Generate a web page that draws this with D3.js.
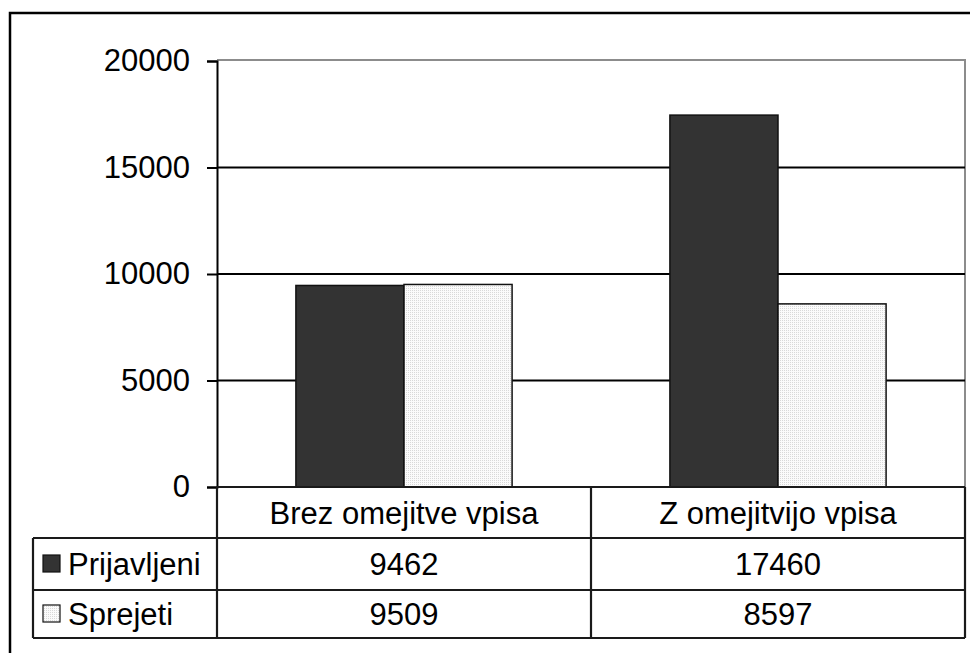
<!DOCTYPE html>
<html>
<head>
<meta charset="utf-8">
<script src="https://cdn.jsdelivr.net/npm/d3@7"></script>
<style>
  body { margin: 0; background: #fff; }
  svg text { font-family: "Liberation Sans", Arial, sans-serif; fill: #000; }
</style>
</head>
<body>
<svg width="970" height="653"></svg>
<script>
// data
var categories = ['Brez omejitve vpisa', 'Z omejitvijo vpisa'];
var seriesNames = ['Prijavljeni', 'Sprejeti'];
var prijavljeni = [9462, 17460];
var sprejeti = [9509, 8597];
var yTicks = [0, 5000, 10000, 15000, 20000];

var seriesValues = [prijavljeni, sprejeti];

var svg = d3.select('svg');

// stipple fill for the light bars
var defs = svg.append('defs');
var pat = defs.append('pattern')
    .attr('id', 'dots')
    .attr('width', 2)
    .attr('height', 2)
    .attr('patternUnits', 'userSpaceOnUse');
pat.append('rect').attr('width', 2).attr('height', 2).attr('fill', '#fbfbfb');
pat.append('rect').attr('width', 1).attr('height', 1).attr('fill', '#d9d9d9');

var fills = ['#333333', 'url(#dots)'];

var plotLeft = 217, plotRight = 965, plotTop = 60, plotBottom = 487;
var legendLeft = 33;
var rowY = [plotBottom, 538, 590, 638];
var fontSize = 31;

// outer frame
svg.append('path')
    .attr('d', 'M10,660 L10,13 L975,13')
    .attr('fill', 'none')
    .attr('stroke', '#000')
    .attr('stroke-width', 2.5);

var xScale = d3.scaleBand()
    .domain(categories)
    .range([plotLeft, plotRight]);

var xInner = d3.scaleBand()
    .domain(seriesNames)
    .range([0, xScale.bandwidth()])
    .paddingOuter(0.73);

var yScale = d3.scaleLinear()
    .domain([0, 20000])
    .range([plotBottom, plotTop + 1]);

// plot area top and right (grey)
svg.append('path')
    .attr('d', 'M' + plotLeft + ',' + plotTop + ' L' + plotRight + ',' + plotTop + ' L' + plotRight + ',' + plotBottom)
    .attr('fill', 'none')
    .attr('stroke', '#8c8c8c')
    .attr('stroke-width', 2);

// gridlines
svg.append('g')
    .selectAll('line')
    .data(yTicks.filter(function(d) { return d > 0 && d < 20000; }))
    .enter()
    .append('line')
        .attr('x1', plotLeft)
        .attr('x2', plotRight)
        .attr('y1', function(d) { return yScale(d); })
        .attr('y2', function(d) { return yScale(d); })
        .attr('stroke', '#000')
        .attr('stroke-width', 1.8);

// bars
seriesNames.forEach(function(s, i) {
    svg.append('g')
        .selectAll('rect')
        .data(seriesValues[i])
        .enter()
        .append('rect')
            .attr('x', function(d, j) { return xScale(categories[j]) + xInner(s); })
            .attr('y', function(d) { return yScale(d); })
            .attr('width', xInner.bandwidth())
            .attr('height', function(d) { return plotBottom - yScale(d); })
            .attr('fill', fills[i])
            .attr('stroke', '#111')
            .attr('stroke-width', 1.5);
});

// y axis
var yAxis = d3.axisLeft(yScale)
    .tickValues(yTicks)
    .tickSize(10)
    .tickPadding(17)
    .tickFormat(d3.format('d'));

var yg = svg.append('g')
    .attr('class', 'y axis')
    .attr('transform', 'translate(' + plotLeft + ',0)')
    .call(yAxis);
yg.select('.domain').attr('stroke', '#000').attr('stroke-width', 2);
yg.selectAll('.tick line').attr('stroke', '#000').attr('stroke-width', 2);
yg.selectAll('.tick text')
    .attr('font-size', fontSize)
    .attr('font-family', '"Liberation Sans", Arial, sans-serif')
    .attr('fill', '#000');

// data table
var table = svg.append('g').attr('class', 'table');
var lineColor = '#1a1a1a';

// horizontal lines
table.append('line').attr('x1', plotLeft).attr('x2', plotRight).attr('y1', rowY[0]).attr('y2', rowY[0]);
[1, 2, 3].forEach(function(k) {
    table.append('line')
        .attr('x1', legendLeft).attr('x2', plotRight)
        .attr('y1', rowY[k]).attr('y2', rowY[k]);
});
// vertical lines
table.append('line').attr('x1', legendLeft).attr('x2', legendLeft).attr('y1', rowY[1]).attr('y2', rowY[3]);
table.append('line').attr('x1', plotLeft).attr('x2', plotLeft).attr('y1', rowY[0]).attr('y2', rowY[3]);
categories.forEach(function(c) {
    var xr = xScale(c) + xScale.bandwidth();
    table.append('line').attr('x1', xr).attr('x2', xr).attr('y1', rowY[0]).attr('y2', rowY[3]);
});
table.selectAll('line').attr('stroke', lineColor).attr('stroke-width', 2.2);

// header labels
table.selectAll('text.cat')
    .data(categories)
    .enter()
    .append('text')
        .attr('class', 'cat')
        .attr('x', function(d) { return xScale(d) + xScale.bandwidth() / 2; })
        .attr('y', (rowY[0] + rowY[1]) / 2 + 11)
        .attr('text-anchor', 'middle')
        .attr('font-size', fontSize)
        .text(function(d) { return d; });

// series rows
seriesNames.forEach(function(s, i) {
    var yMid = (rowY[i + 1] + rowY[i + 2]) / 2;
    table.append('rect')
        .attr('x', 43)
        .attr('y', yMid - 9)
        .attr('width', 17)
        .attr('height', 17)
        .attr('fill', fills[i])
        .attr('stroke', '#111')
        .attr('stroke-width', 1.2);
    table.append('text')
        .attr('x', 68)
        .attr('y', yMid + 11)
        .attr('font-size', fontSize)
        .text(s);
    table.selectAll('text.v' + i)
        .data(seriesValues[i])
        .enter()
        .append('text')
            .attr('class', 'v' + i)
            .attr('x', function(d, j) { return xScale(categories[j]) + xScale.bandwidth() / 2; })
            .attr('y', yMid + 11)
            .attr('text-anchor', 'middle')
            .attr('font-size', fontSize)
            .text(function(d) { return d; });
});
</script>
</body>
</html>
